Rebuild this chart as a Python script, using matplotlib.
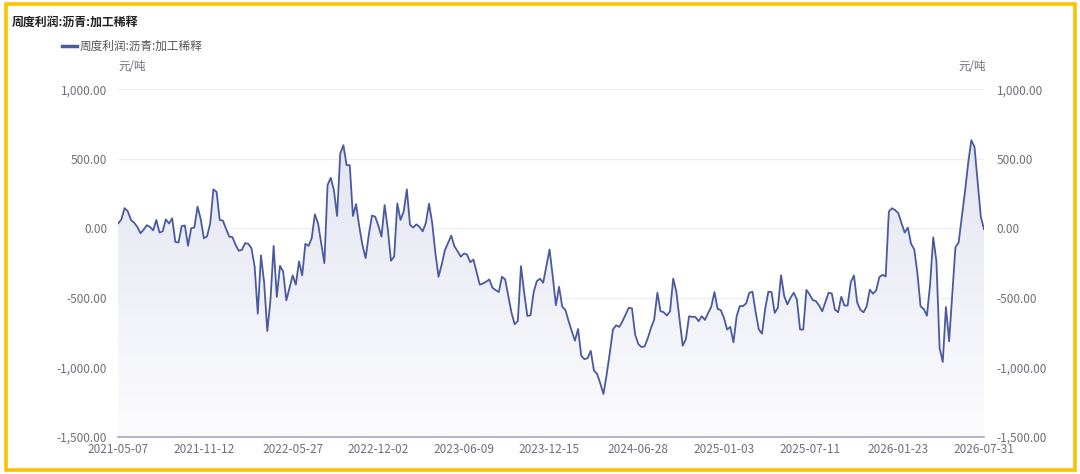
import numpy as np
import pandas as pd
import matplotlib
matplotlib.use('Agg')
import matplotlib.pyplot as plt
from matplotlib.colors import LinearSegmentedColormap
from matplotlib.patches import Rectangle
from matplotlib.ticker import FuncFormatter, FixedLocator

plt.rcParams['font.family'] = ['Noto Sans CJK SC', 'DejaVu Sans']

# weekly dates, 2021-05-07 .. 2026-07-31
dates = pd.date_range('2021-05-07', '2026-07-31', freq='7D')

# 周度利润:沥青:加工稀释 (元/吨)
profit = [
    35, 65, 145, 122, 60, 40, 10, -36, -10, 22,
    10, -15, 60, -31, -22, 64, 34, 72, -98, -103,
    15, 20, -126, 0, 6, 156, 66, -72, -58, 36,
    280, 262, 60, 55, -5, -60, -64, -119, -162, -155,
    -107, -112, -143, -274, -615, -195, -390, -740,
    -514, -127, -495, -270, -311, -519, -430, -339, -406, -239,
    -339, -112, -127, -72, 100, 36, -108, -251, 311, 363,
    275, 88, 538, 598, 454, 454, 88, 174, 12, -120,
    -215, -48, 91, 84, 20, -60, 167, -7, -234, -203,
    179, 60, 120, 280,
    25, 5, 28, 10, -22, 38, 177, 38, -177, -349,
    -260, -158, -105, -53, -129, -165, -205, -182, -189, -244,
    -225, -315, -406, -397, -385, -368, -428, -445, -459, -349,
    -368, -488, -607, -691, -667, -272, -464, -631, -626, -459,
    -380, -363, -392, -272, -153, -344, -554, -421, -564, -588,
    -667,
    -740, -809, -725, -918, -942, -935, -882, -1024, -1048, -1116,
    -1193, -1055, -898, -729, -698, -710, -669, -620, -572, -577,
    -766, -833, -855, -850, -790, -717, -657, -464, -597, -604,
    -628, -597, -362, -459, -657, -845, -797, -633, -638, -638,
    -669, -633, -660, -610, -565, -459,
    -580, -589, -645, -729, -710, -821, -633, -560, -560, -541,
    -464, -457, -604, -729, -758, -580, -457, -459, -609, -572,
    -338, -488, -548, -500, -464, -512, -729, -729, -444, -476,
    -517, -524, -556, -597, -530, -464, -469, -585, -604, -493,
    -556, -556, -387,
    -340, -533, -586, -605, -562, -442, -471, -447, -352, -335,
    -347, 120, 144, 130, 108, 36, -31, 5, -112, -151,
    -323, -562, -581, -629, -407, -65, -239, -861, -962, -567,
    -813, -478, -136, -103, 80, 263, 466, 634, 586, 335,
    84, -7,
]

y_ticks = [-1500, -1000, -500, 0, 500, 1000]
x_label_dates = ['2021-05-07', '2021-11-12', '2022-05-27', '2022-12-02', '2023-06-09',
                 '2023-12-15', '2024-06-28', '2025-01-03', '2025-07-11', '2026-01-23',
                 '2026-07-31']

title = '周度利润:沥青:加工稀释'
unit = '元/吨'

line_color = '#4b5a9f'
text_color = '#6e7079'

fig = plt.figure(figsize=(10.8, 4.74), dpi=100)
ax = fig.add_axes([0.1095, 0.0787, 0.8016, 0.7329])

x = np.arange(len(profit))
vals = np.array(profit, dtype=float)

# gradient area under the line
poly = ax.fill_between(x, vals, -1500, facecolor='none', edgecolor='none')
cmap = LinearSegmentedColormap.from_list('g', ['#fcfcfe', '#e3e5f1'])
grad = np.linspace(0, 1, 256).reshape(-1, 1)
im = ax.imshow(grad, extent=[0, len(profit) - 1, -1500, vals.max()], origin='lower',
               aspect='auto', cmap=cmap, zorder=1)
im.set_clip_path(poly.get_paths()[0], transform=ax.transData)

ax.plot(x, vals, color=line_color, linewidth=1.3, zorder=3)

ax.set_xlim(0, len(profit) - 1)
ax.set_ylim(-1500, 1000)

# horizontal grid
for t in y_ticks[1:]:
    ax.axhline(t, color='#eceef5', linewidth=0.9, zorder=0)

for s in ['top', 'right', 'left']:
    ax.spines[s].set_visible(False)
ax.spines['bottom'].set_color('#a3a7c4')
ax.spines['bottom'].set_linewidth(1.2)

date_list = list(dates.strftime('%Y-%m-%d'))
pos = [date_list.index(d) for d in x_label_dates]
ax.xaxis.set_major_locator(FixedLocator(pos))
ax.set_xticklabels(x_label_dates)
ax.tick_params(axis='x', length=0, pad=4.5, labelsize=8.5, colors=text_color)

fmt = FuncFormatter(lambda v, p: f'{v:,.2f}')
ax.set_yticks(y_ticks)
ax.yaxis.set_major_formatter(fmt)
ax.tick_params(axis='y', length=0, pad=8, labelsize=8.5, colors=text_color)

ax2 = ax.twinx()
ax2.set_ylim(-1500, 1000)
ax2.set_yticks(y_ticks)
ax2.yaxis.set_major_formatter(fmt)
ax2.tick_params(axis='y', length=0, pad=9, labelsize=8.5, colors=text_color)
for s in ax2.spines.values():
    s.set_visible(False)

# title, legend, units
fig.text(12 / 1080, 1 - 22 / 474, title, fontsize=8.6, fontweight='bold',
         color='#222222', va='center', ha='left')
fig.add_artist(plt.Line2D([62 / 1080, 77 / 1080], [1 - 46 / 474] * 2,
                          color=line_color, linewidth=2.5))
fig.text(80 / 1080, 1 - 46 / 474, title, fontsize=8.4, color='#555555',
         va='center', ha='left')
fig.text(118 / 1080, 1 - 67 / 474, unit, fontsize=8.3, color=text_color,
         va='center', ha='left')
fig.text(986 / 1080, 1 - 67 / 474, unit, fontsize=8.3, color=text_color,
         va='center', ha='right')

# yellow frame
fig.add_artist(Rectangle((6 / 1080, 4 / 474), 1069 / 1080, 466 / 474,
                         transform=fig.transFigure, fill=False,
                         edgecolor='#ffc000', linewidth=2.6))

fig.savefig('out.png', dpi=100)
